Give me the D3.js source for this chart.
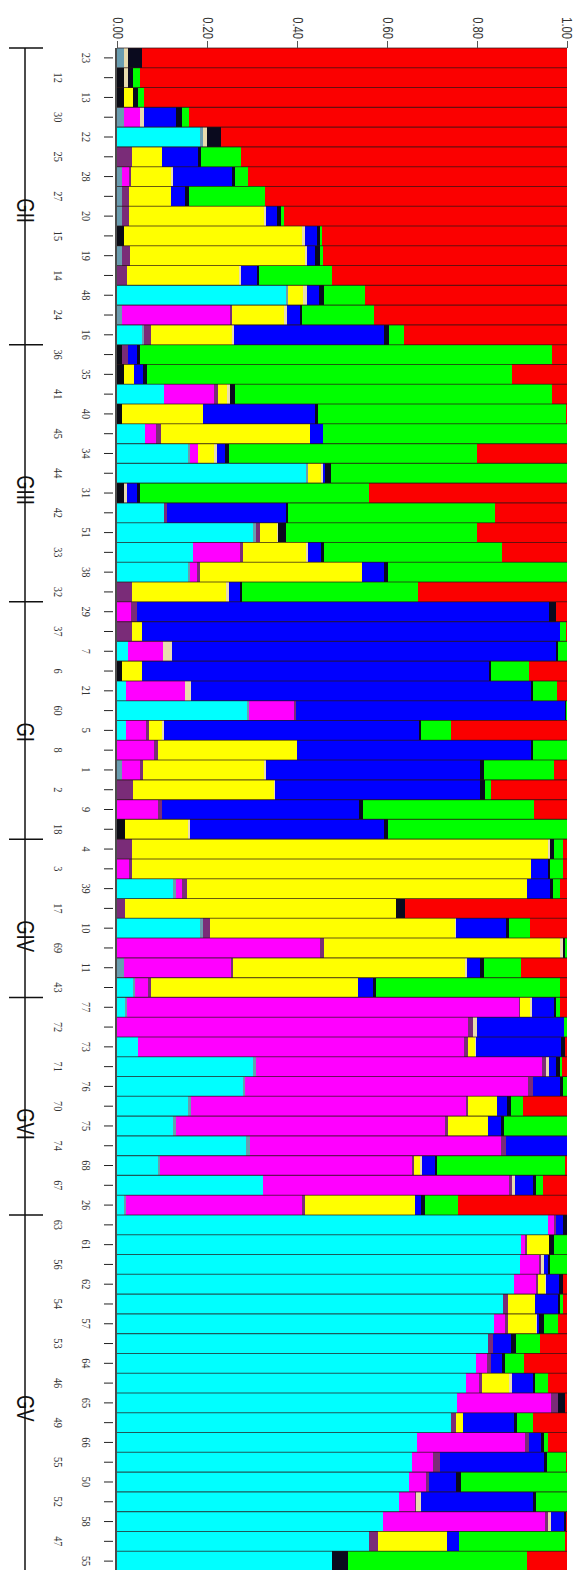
<!DOCTYPE html>
<html>
<head>
<meta charset="utf-8">
<script src="https://cdn.jsdelivr.net/npm/d3@7"></script>
<style>
  body { margin: 0; background: #fff; }
  svg { display: block; }
</style>
</head>
<body>
<svg id="chart" width="573" height="1570"></svg>
<script>
// sample ids, top to bottom
const samples = [
  '23', '12', '13', '30', '22', '25', '28', '27', '20', '15', '19', '14', '48', '24', '16',
  '36', '35', '41', '40', '45', '34', '44', '31', '42', '51', '33', '38', '32',
  '29', '37', '7', '6', '21', '60', '5', '8', '1', '2', '9', '18',
  '4', '3', '39', '17', '10', '69', '11', '43',
  '77', '72', '73', '71', '76', '70', '75', '74', '68', '67', '26',
  '63', '61', '56', '62', '54', '57', '53', '64', '46', '65', '49', '66', '55', '50', '52', '58', '47', '55',
];
const groupNames = ['GII', 'GIII', 'GI', 'GIV', 'GVI', 'GV'];
const groupSizes = [15, 13, 12, 8, 11, 18];
const tickValues = [0, 0.2, 0.4, 0.6, 0.8, 1.0];

// membership coefficients per cluster (one value per sample)
const leadBlack = [
  0, .015, .015, 0, 0, 0, 0, 0, 0, .015, 0, 0, 0, 0, 0,
  .012, .015, 0, .01, 0, 0, 0, .016, 0, 0, 0, 0, 0,
  0, 0, 0, .01, 0, 0, 0, 0, 0, 0, 0, .018,
  0, 0, 0, 0, 0, 0, 0, 0,
  0, 0, 0, 0, 0, 0, 0, 0, 0, 0, 0,
  0, 0, 0, 0, 0, 0, 0, 0, 0, 0, 0, 0, 0, 0, 0, 0, 0, 0,
];
const cyan = [
  0, 0, 0, 0, .185, 0, 0, 0, 0, 0, 0, 0, .375, 0, .055,
  0, 0, .105, 0, .062, .157, .42, 0, .105, .303, .168, .157, 0,
  0, 0, .025, 0, .02, .288, .02, 0, 0, 0, 0, 0,
  0, 0, .125, 0, .185, 0, 0, .035,
  .018, 0, .047, .303, .28, .157, .124, .287, .09, .325, .015,
  .958, .897, .895, .882, .857, .838, .824, .797, .776, .755, .742, .667, .655, .649, .627, .592, .559, .478,
];
const teal = [
  .015, 0, 0, .015, .005, 0, .012, .012, .012, 0, .012, 0, .005, .012, .005,
  0, 0, 0, 0, 0, .005, .005, 0, 0, .005, 0, .005, 0,
  0, 0, 0, 0, 0, .005, 0, 0, .012, 0, 0, 0,
  0, 0, .005, 0, .005, 0, .015, .005,
  .005, 0, 0, .005, .005, .007, .006, .008, .005, 0, .005,
  0, 0, 0, 0, 0, 0, 0, 0, 0, 0, 0, 0, 0, 0, 0, 0, 0, 0,
];
const magenta = [
  0, 0, 0, .035, 0, 0, .015, 0, 0, 0, 0, 0, 0, .238, 0,
  0, 0, .11, 0, .025, .018, 0, 0, 0, 0, .105, .015, 0,
  .032, 0, .078, 0, .13, .1, .045, .082, .04, 0, .09, 0,
  0, .027, .015, 0, 0, .452, .238, .028,
  .87, .78, .725, .637, .628, .611, .598, .559, .56, .547, .39,
  .012, .01, .043, .048, 0, .025, 0, .025, .028, .21, 0, .24, .048, .037, .035, .358, 0, 0,
];
const purple = [
  0, 0, 0, 0, 0, .033, .005, .015, .015, 0, .016, .022, 0, .005, .015,
  .012, 0, .01, 0, .01, 0, 0, 0, .005, .01, .008, .007, .033,
  .013, .033, 0, 0, 0, .005, .005, .008, .005, .035, .01, 0,
  .033, .006, .01, .018, .016, .008, .005, .008,
  .003, .01, .008, .008, .012, .005, .008, .011, .005, .005, .008,
  .005, .005, .005, .005, .012, .005, .012, .008, .008, .015, .012, .008, .015, .007, .003, .008, .02, 0,
];
const yellow = [
  0, 0, .02, 0, 0, .067, .088, .094, .3, .397, .39, .248, .033, .117, .18,
  0, .022, .02, .18, .332, .036, .028, 0, 0, .037, .14, .36, .21,
  0, .022, 0, .045, 0, 0, .03, .31, .27, .313, 0, .14,
  .925, .886, .756, .603, .544, .525, .515, .459,
  .022, 0, .015, 0, 0, .065, .088, 0, .013, 0, .245,
  0, .048, 0, .015, .06, .062, 0, 0, .06, 0, .015, 0, 0, 0, 0, 0, .154, 0,
];
const tan = [
  .01, .01, 0, .01, .01, 0, .005, 0, .003, .005, .005, .005, .01, .005, .005,
  0, 0, .005, 0, 0, .007, .005, .007, 0, .003, .003, 0, .005,
  0, 0, .02, 0, .015, 0, .005, 0, .005, .004, 0, .005,
  .005, 0, 0, 0, .004, .005, .005, 0,
  .005, .01, .003, .007, 0, 0, 0, 0, .005, .008, 0,
  0, 0, .005, .003, 0, .003, 0, 0, .006, 0, 0, 0, 0, 0, .01, .006, 0, 0,
];
const blue = [
  0, 0, 0, .072, 0, .08, .13, .03, .025, .027, .017, .035, .026, .03, .333,
  .02, .02, 0, .25, .028, .018, .005, .022, .265, 0, .03, .05, .025,
  .915, .93, .852, .772, .755, .597, .565, .52, .475, .455, .437, .43,
  0, .038, .052, 0, .11, 0, .028, .033,
  .048, .193, .188, .015, .06, .022, .03, .134, .028, .04, .012,
  .015, 0, .01, .03, .05, .005, .04, .025, .046, 0, .114, .028, .23, .061, .249, .03, .027, 0,
];
const black = [
  .03, .01, .012, .012, .03, .007, .007, .008, .01, .006, .01, .005, .012, .005, .012,
  .007, .01, .012, .007, 0, .008, .012, .005, .005, .018, .005, .008, .005,
  .015, 0, .005, .005, .005, .002, .005, .005, .008, .01, .01, .01,
  .007, .005, .005, .02, .008, .005, .01, .008,
  .005, 0, .01, .01, .005, .008, .006, 0, .004, .006, .01,
  .01, .01, .005, .007, .005, .01, .01, .008, .005, .015, .005, .005, .007, .011, .006, .004, 0, .035,
];
const green = [
  0, .015, .012, .015, 0, .088, .03, .17, .005, .006, .008, .163, .091, .158, .032,
  .915, .81, .705, .55, .543, .55, .525, .51, .46, .423, .397, .398, .39,
  0, .012, .02, .083, .052, .003, .068, .075, .155, .015, .38, .397,
  .02, .028, .017, 0, .045, .005, .082, .408,
  .008, .007, 0, .003, .01, .027, .14, .001, .285, .015, .073,
  0, .03, .037, 0, .008, .033, .055, .042, .028, 0, .037, .01, .043, .235, .07, 0, .235, .397,
];
const red = [
  .945, .95, .941, .841, .77, .725, .708, .671, .63, .544, .542, .522, .448, .43, .363,
  .034, .123, .033, .003, 0, .201, 0, .44, .16, .201, .144, 0, .332,
  .025, .003, 0, .085, .023, 0, .257, 0, .03, .168, .073, 0,
  .01, .01, .015, .359, .083, 0, .102, .016,
  .016, 0, .004, .012, 0, .098, 0, 0, .005, .054, .242,
  0, 0, 0, .01, .008, .019, .059, .095, .043, .005, .075, .042, .002, 0, 0, .002, .005, .09,
];

const clusters = [
  {key: 'lead', values: leadBlack, color: '#0b0b14'},
  {key: 'cyan', values: cyan, color: '#00ffff'},
  {key: 'teal', values: teal, color: '#6a9db0'},
  {key: 'magenta', values: magenta, color: '#ff00ff'},
  {key: 'purple', values: purple, color: '#7a2c78'},
  {key: 'yellow', values: yellow, color: '#ffff00'},
  {key: 'tan', values: tan, color: '#e8dbae'},
  {key: 'blue', values: blue, color: '#0000ff'},
  {key: 'black', values: black, color: '#0a0a1e'},
  {key: 'green', values: green, color: '#00ff00'},
  {key: 'red', values: red, color: '#fb0000'},
];
const colorOf = {};
clusters.forEach((c) => { colorOf[c.key] = c.color; });

// one row per sample, rescaled so each bar fills 0..1
const rows = samples.map((s, i) => {
  const row = {};
  const total = d3.sum(clusters, c => c.values[i]);
  clusters.forEach((c) => { row[c.key] = c.values[i] / total; });
  return row;
});

const svg = d3.select('#chart');
const plotTop = 48;
const plotBottom = 1571;
const x = d3.scaleLinear().domain([0, 1]).range([117, 567]);
const y = d3.scaleBand().domain(d3.range(samples.length)).range([plotTop, plotBottom]);

const stacked = d3.stack().keys(clusters.map(c => c.key))(rows);

// bars
svg.append('g')
  .attr('shape-rendering', 'crispEdges')
  .selectAll('g')
  .data(stacked)
  .join('g')
  .attr('fill', d => colorOf[d.key])
  .selectAll('rect')
  .data(d => d)
  .join('rect')
  .attr('x', d => x(d[0]))
  .attr('width', d => Math.max(0, x(d[1]) - x(d[0])))
  .attr('y', (d, i) => y(i))
  .attr('height', y.bandwidth());

// thin dark lines between individuals
svg.append('g')
  .selectAll('line')
  .data(d3.range(samples.length + 1))
  .join('line')
  .attr('x1', x(0))
  .attr('x2', x(1))
  .attr('y1', i => i < samples.length ? y(i) : plotBottom)
  .attr('y2', i => i < samples.length ? y(i) : plotBottom)
  .attr('stroke', '#2a1414')
  .attr('stroke-opacity', 0.7)
  .attr('stroke-width', 1.1);

// top axis with rotated labels
const xAxis = svg.append('g')
  .attr('transform', `translate(0,${plotTop})`)
  .call(d3.axisTop(x).tickValues(tickValues).tickFormat(d3.format('.2f')).tickSize(7).tickSizeOuter(0));
xAxis.select('.domain').remove();
xAxis.selectAll('.tick line').attr('stroke', '#555');
xAxis.selectAll('.tick text')
  .attr('font-family', '"Liberation Sans", Arial, sans-serif')
  .attr('font-size', 14)
  .attr('fill', '#333')
  .attr('x', 0)
  .attr('y', 0)
  .attr('dy', '0.35em')
  .attr('text-anchor', 'end')
  .attr('transform', (d, i) => `translate(${i === tickValues.length - 1 ? -1 : 0},-9) rotate(90) scale(0.8,1)`);

// left axis: sample ticks and staggered labels
const yAxis = svg.append('g')
  .attr('transform', 'translate(113,0)')
  .call(d3.axisLeft(y).tickSize(9).tickFormat(i => samples[i]));
yAxis.select('.domain').remove();
yAxis.selectAll('.tick line').attr('stroke', '#222');
yAxis.selectAll('.tick text')
  .attr('font-family', '"Liberation Serif", "Times New Roman", serif')
  .attr('font-size', 11.5)
  .attr('fill', '#333')
  .attr('x', 0)
  .attr('y', 0)
  .attr('dy', '0.35em')
  .attr('text-anchor', 'middle')
  .attr('transform', i => `translate(${i % 2 === 0 ? -27 : -55},0) rotate(90) scale(0.9,1)`);

svg.append('line')
  .attr('x1', 116).attr('x2', 116)
  .attr('y1', plotTop).attr('y2', plotBottom)
  .attr('stroke', '#111')
  .attr('stroke-width', 1.5);

// group bracket on the far left
const bounds = [0, ...d3.cumsum(groupSizes)];
const edgeY = b => (b < samples.length ? y(b) : plotBottom);
svg.append('line')
  .attr('x1', 25).attr('x2', 25)
  .attr('y1', plotTop).attr('y2', plotBottom)
  .attr('stroke', '#111')
  .attr('stroke-width', 1.5);
svg.append('g')
  .selectAll('line')
  .data(bounds.slice(0, -1))
  .join('line')
  .attr('x1', 9).attr('x2', 43)
  .attr('y1', b => edgeY(b))
  .attr('y2', b => edgeY(b))
  .attr('stroke', '#111')
  .attr('stroke-width', 1.5);
svg.append('g')
  .selectAll('text')
  .data(groupNames)
  .join('text')
  .attr('font-family', '"Liberation Sans", Arial, sans-serif')
  .attr('font-size', 23)
  .attr('fill', '#111')
  .attr('dy', '0.35em')
  .attr('transform', (d, i) => {
    const mid = (edgeY(bounds[i]) + edgeY(bounds[i + 1])) / 2;
    return `translate(25,${mid + 2}) rotate(90) scale(0.8,1)`;
  })
  .text(d => d);
</script>
</body>
</html>
